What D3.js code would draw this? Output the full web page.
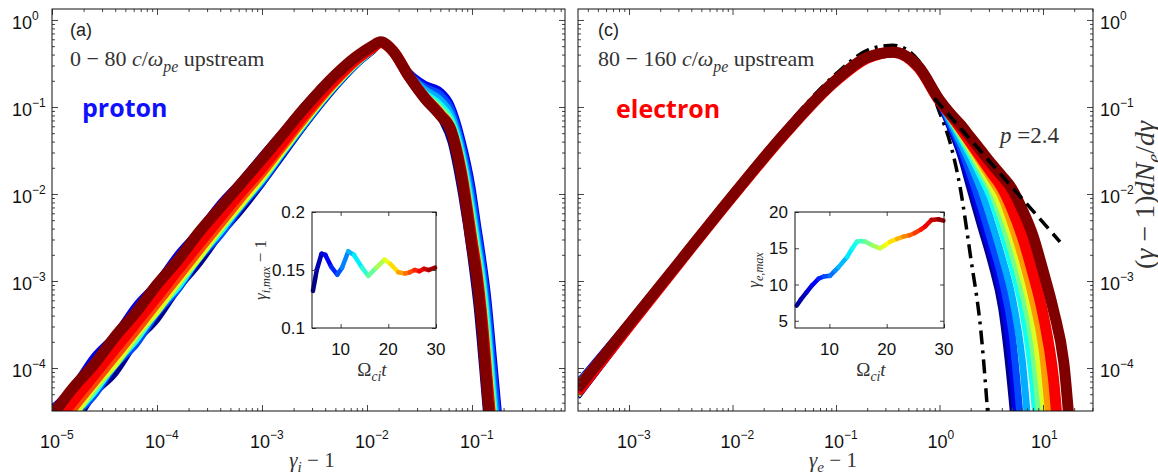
<!DOCTYPE html>
<html>
<head>
<meta charset="utf-8">
<script src="https://cdn.jsdelivr.net/npm/d3@7"></script>
<style>
  body { margin: 0; background: #fff; }
  svg { display: block; }
</style>
</head>
<body>
<div id="chart"></div>
<script>
// ---------------- data (log10 values) ----------------

// left panel: protons, 0-80 c/wpe upstream
const protonTimes = [4.5, 7, 9.5, 12, 14.5, 17, 19.5, 25, 27, 30];
const protonLogE = [-5.0, -4.8, -4.6, -4.4, -4.2, -4.0, -3.8, -3.6, -3.4, -3.2, -3.0, -2.8, -2.6,
                    -2.3, -2.1, -1.95, -1.87, -1.75,
                    -1.6, -1.45, -1.3, -1.2, -1.1, -1.0, -0.95, -0.9, -0.85, -0.8, -0.7];
const protonLogF = [
  [-4.90, -4.66, -4.30, -4.06, -3.70, -3.44, -3.09, -2.80, -2.47, -2.19, -1.88, -1.55, -1.22,
   -0.77, -0.51, -0.36, -0.28, -0.37,
   -0.62, -0.80, -1.12, -1.40, -2.00, -2.81, -3.31, -3.98, -4.68, -5.30, -6.50],
  [-4.47, -4.22, -3.87, -3.62, -3.28, -3.02, -2.69, -2.42, -2.11, -1.85, -1.56, -1.28, -0.99,
   -0.61, -0.41, -0.29, -0.25, -0.34,
   -0.60, -0.74, -0.82, -0.98, -1.36, -1.92, -2.33, -2.73, -3.19, -3.83, -5.15],
  [-4.93, -4.57, -4.32, -3.97, -3.73, -3.37, -3.10, -2.74, -2.48, -2.15, -1.87, -1.53, -1.21,
   -0.76, -0.51, -0.35, -0.28, -0.34,
   -0.62, -0.77, -0.86, -1.02, -1.42, -2.00, -2.41, -2.81, -3.31, -3.98, -5.25],
  [-4.87, -4.57, -4.27, -3.97, -3.67, -3.36, -3.05, -2.74, -2.43, -2.14, -1.84, -1.52, -1.20,
   -0.75, -0.50, -0.35, -0.28, -0.35,
   -0.63, -0.80, -0.92, -1.08, -1.48, -2.12, -2.53, -2.93, -3.48, -4.20, -5.40],
  [-4.88, -4.54, -4.28, -3.94, -3.68, -3.33, -3.07, -2.72, -2.44, -2.12, -1.84, -1.51, -1.19,
   -0.75, -0.50, -0.35, -0.28, -0.35,
   -0.64, -0.84, -0.98, -1.14, -1.54, -2.21, -2.61, -3.01, -3.60, -4.35, -5.50],
  [-4.85, -4.55, -4.25, -3.95, -3.65, -3.34, -3.03, -2.72, -2.41, -2.12, -1.82, -1.50, -1.18,
   -0.74, -0.49, -0.34, -0.27, -0.35,
   -0.64, -0.86, -1.02, -1.18, -1.59, -2.29, -2.69, -3.13, -3.75, -4.48, -5.60],
  [-4.82, -4.56, -4.22, -3.96, -3.62, -3.35, -3.02, -2.73, -2.40, -2.12, -1.82, -1.50, -1.18,
   -0.74, -0.49, -0.34, -0.27, -0.36,
   -0.65, -0.87, -1.05, -1.22, -1.64, -2.37, -2.77, -3.25, -3.90, -4.61, -5.70],
  [-4.78, -4.48, -4.18, -3.88, -3.58, -3.27, -2.97, -2.66, -2.36, -2.06, -1.77, -1.46, -1.15,
   -0.72, -0.48, -0.34, -0.27, -0.36,
   -0.65, -0.88, -1.08, -1.25, -1.70, -2.45, -2.85, -3.36, -4.05, -4.74, -5.80],
  [-4.68, -4.38, -4.08, -3.78, -3.48, -3.18, -2.87, -2.57, -2.27, -1.98, -1.70, -1.40, -1.09,
   -0.68, -0.45, -0.32, -0.26, -0.36,
   -0.65, -0.89, -1.09, -1.26, -1.75, -2.53, -2.93, -3.48, -4.20, -4.87, -5.90],
  [-4.55, -4.23, -3.96, -3.64, -3.36, -3.04, -2.76, -2.44, -2.16, -1.88, -1.60, -1.31, -1.02,
   -0.63, -0.42, -0.30, -0.25, -0.36,
   -0.65, -0.90, -1.10, -1.27, -1.80, -2.61, -3.01, -3.60, -4.35, -5.00, -6.00]
];

// right panel: electrons, 80-160 c/wpe upstream
const electronTimes = [4.5, 7, 9.5, 12, 14.5, 17, 19.5, 23, 27, 30];
const electronLogE = [-3.5, -3.0, -2.5, -2.0, -1.5, -1.0, -0.7, -0.45, -0.2, 0.0, 0.1, 0.2,
                      0.3, 0.4, 0.5, 0.6, 0.7, 0.8, 0.9, 1.0, 1.1, 1.2, 1.3, 1.45];
const electronLogF = [
  [-4.33, -3.55, -2.79, -2.04, -1.33, -0.71, -0.45, -0.38, -0.56, -0.95,
   -1.23, -1.54, -1.96, -2.38, -2.79, -3.31, -4.34, -5.80, -7, -7, -7, -7, -7, -7],
  [-4.18, -3.47, -2.75, -2.02, -1.32, -0.70, -0.44, -0.38, -0.56, -0.95,
   -1.21, -1.50, -1.88, -2.28, -2.69, -3.16, -3.98, -5.50, -7, -7, -7, -7, -7, -7],
  [-4.30, -3.53, -2.78, -2.03, -1.32, -0.70, -0.44, -0.38, -0.56, -0.94,
   -1.19, -1.46, -1.79, -2.15, -2.55, -2.97, -3.59, -4.87, -6.5, -7, -7, -7, -7, -7],
  [-4.22, -3.49, -2.76, -2.03, -1.32, -0.70, -0.44, -0.37, -0.55, -0.94,
   -1.16, -1.40, -1.66, -1.95, -2.31, -2.71, -3.17, -3.92, -5.32, -6.8, -7, -7, -7, -7],
  [-4.27, -3.52, -2.77, -2.03, -1.32, -0.70, -0.44, -0.37, -0.55, -0.94,
   -1.13, -1.34, -1.56, -1.80, -2.06, -2.42, -2.83, -3.32, -4.15, -5.62, -7, -7, -7, -7],
  [-4.20, -3.48, -2.76, -2.02, -1.31, -0.70, -0.44, -0.37, -0.55, -0.93,
   -1.12, -1.32, -1.52, -1.74, -1.96, -2.29, -2.67, -3.11, -3.73, -4.98, -6.5, -7, -7, -7],
  [-4.31, -3.54, -2.78, -2.03, -1.32, -0.70, -0.44, -0.37, -0.55, -0.93,
   -1.11, -1.29, -1.48, -1.69, -1.90, -2.17, -2.50, -2.92, -3.43, -4.34, -5.8, -7, -7, -7],
  [-4.21, -3.50, -2.76, -2.02, -1.31, -0.70, -0.44, -0.37, -0.55, -0.93,
   -1.10, -1.27, -1.45, -1.64, -1.83, -2.03, -2.36, -2.74, -3.20, -3.82, -5.11, -6.6, -7, -7],
  [-4.28, -3.52, -2.77, -2.03, -1.32, -0.70, -0.44, -0.37, -0.55, -0.93,
   -1.08, -1.24, -1.41, -1.58, -1.75, -1.92, -2.17, -2.49, -2.90, -3.38, -4.11, -5.58, -7, -7],
  [-4.24, -3.50, -2.76, -2.02, -1.31, -0.69, -0.43, -0.37, -0.54, -0.92,
   -1.07, -1.20, -1.35, -1.50, -1.65, -1.79, -1.94, -2.18, -2.47, -2.88, -3.33, -3.93, -5.3, -7]
];
// Maxwellian fit (dash-dot) on the electron grid
const electronMaxwellLogF = [-4.24, -3.48, -2.73, -1.98, -1.25, -0.62, -0.35, -0.29, -0.47, -1.06,
                             -1.40, -1.93, -2.72, -3.58, -5.1, -7, -7, -7, -7, -7, -7, -7, -7, -7];
// power-law p = 2.4 (dashed)
const powerLawLogE = [-0.05, 1.164];
const powerLawLogF = [-0.90, -2.55];

// insets
const ionInsetT = [4.2, 5.0, 6.0, 6.8, 8.0, 9.3, 10.3, 11.6, 12.8, 14.5, 15.8, 17.5, 19.2, 20.5,
                   22.1, 23.5, 24.5, 25.5, 26.5, 27.5, 28.5, 29.8];
const ionInsetGmax = [0.132, 0.150, 0.164, 0.163, 0.153, 0.146, 0.152, 0.166, 0.163, 0.152, 0.145,
                      0.152, 0.159, 0.155, 0.148, 0.147, 0.148, 0.150, 0.149, 0.151, 0.150, 0.152];
const eleInsetT = [4.3, 5.0, 6.0, 7.0, 8.1, 9.0, 10.1, 11.0, 11.6, 13.1, 14.0, 14.8, 15.5, 16.3,
                   17.5, 18.8, 19.7, 20.6, 21.8, 22.9, 24.0, 24.9, 26.0, 26.7, 27.8, 29.0, 29.9];
const eleInsetGmax = [7.1, 7.9, 8.9, 9.9, 10.8, 11.1, 11.2, 11.9, 12.4, 13.8, 15.0, 15.9, 16.0, 15.9,
                      15.4, 15.0, 15.4, 15.9, 16.3, 16.6, 16.8, 17.1, 17.6, 18.0, 18.9, 19.0, 18.8];

// tick labels
const protonXExps = [-5, -4, -3, -2, -1];
const electronXExps = [-3, -2, -1, 0, 1];
const yExps = [0, -1, -2, -3, -4];

// ---------------- setup ----------------
const SANS = "'Liberation Sans', Arial, sans-serif";
const SERIF = "'Liberation Serif', 'Times New Roman', serif";
const pow10 = v => Math.pow(10, v);

const svg = d3.select("#chart").append("svg")
  .attr("width", 1158).attr("height", 475);

// jet colour map, time -> colour
const jet = d3.scaleLinear()
  .domain([0, 0.125, 0.375, 0.625, 0.875, 1])
  .range(["#00008f", "#0000ff", "#00ffff", "#ffff00", "#ff0000", "#800000"])
  .clamp(true);
const tColor = t => jet((t - 4.5) / 25.5);

// rich text with sub/superscripts
function rich(parent, parts, size, family) {
  const t = parent.append("text").attr("font-size", size).attr("font-family", family || SERIF);
  let shift = 0;
  parts.forEach(p => {
    const target = p.sub ? 0.25 * size : p.sup ? -0.4 * size : 0;
    t.append("tspan").text(p.t)
      .attr("dy", target - shift)
      .attr("font-size", (p.sub || p.sup) ? size * 0.72 : size)
      .attr("font-style", p.i ? "italic" : "normal");
    shift = target;
  });
  return t;
}

function minorTicks(dom) {
  const lo = Math.floor(Math.log10(dom[0])), hi = Math.ceil(Math.log10(dom[1]));
  const out = [];
  for (let k = lo; k <= hi; k++)
    for (let m = 2; m <= 9; m++) {
      const v = m * pow10(k);
      if (v > dom[0] && v < dom[1]) out.push(v);
    }
  return out;
}

function logFrame(g, x, y, w, h) {
  const xMaj = d3.range(Math.ceil(Math.log10(x.domain()[0])), Math.floor(Math.log10(x.domain()[1])) + 1).map(pow10);
  const yMaj = d3.range(Math.ceil(Math.log10(y.domain()[0])), Math.floor(Math.log10(y.domain()[1])) + 1).map(pow10);
  const xMin = minorTicks(x.domain()), yMin = minorTicks(y.domain());
  const sets = [
    [d3.axisBottom, x, `translate(0,${h})`],
    [d3.axisTop, x, "translate(0,0)"],
    [d3.axisLeft, y, "translate(0,0)"],
    [d3.axisRight, y, `translate(${w},0)`]
  ];
  sets.forEach(([ax, sc, tr]) => {
    const isX = sc === x;
    [[isX ? xMaj : yMaj, 6], [isX ? xMin : yMin, 3]].forEach(([vals, len]) => {
      const a = g.append("g").attr("transform", tr)
        .call(ax(sc).tickValues(vals).tickSize(-len).tickSizeOuter(0).tickFormat(""));
      a.select(".domain").remove();
      a.selectAll("line").attr("stroke", "#444");
    });
  });
  g.append("rect").attr("width", w).attr("height", h)
    .attr("fill", "none").attr("stroke", "#111").attr("stroke-width", 1);
}

function expLabel(g, cx, cy, e, mode) {
  // "10" placed on the tick, exponent raised to its right
  const s = e < 0 ? "\u2212" + (-e) : String(e);
  const base = g.append("text").attr("font-family", SANS).attr("font-size", 18).attr("fill", "#111");
  if (mode === "x") {
    base.attr("x", cx - 2).attr("y", cy).attr("text-anchor", "middle").text("10");
    g.append("text").attr("font-family", SANS).attr("font-size", 12).attr("fill", "#111")
      .attr("x", cx + 8).attr("y", cy - 9).text(s);
  } else {
    base.attr("x", cx).attr("y", cy).text("10");
    g.append("text").attr("font-family", SANS).attr("font-size", 12).attr("fill", "#111")
      .attr("x", cx + 20).attr("y", cy - 9).text(s);
  }
}

// ---------------- main panels ----------------
function spectraPanel(opt) {
  const w = opt.box[2] - opt.box[0], h = opt.box[3] - opt.box[1];
  const g = svg.append("g").attr("transform", `translate(${opt.box[0]},${opt.box[1]})`);
  const x = d3.scaleLog().domain(opt.xDom).range([0, w]);
  const y = d3.scaleLog().domain([pow10(-4.494), pow10(0.126)]).range([h, 0]);

  g.append("clipPath").attr("id", "clip-" + opt.id)
    .append("rect").attr("width", w).attr("height", h);
  const plot = g.append("g").attr("clip-path", `url(#clip-${opt.id})`);

  const line = d3.line()
    .x(d => x(pow10(d[0])))
    .y(d => y(pow10(d[1])))
    .curve(d3.curveMonotoneX);

  if (opt.maxwell) {
    plot.append("path")
      .attr("d", line(opt.logE.map((e, i) => [e, opt.maxwell[i]])))
      .attr("fill", "none").attr("stroke", "#000").attr("stroke-width", 3.5)
      .attr("stroke-dasharray", "14,6,3,6");
  }

  const n = opt.logF.length;
  opt.logF.forEach((row, k) => {
    plot.append("path")
      .attr("d", line(opt.logE.map((e, i) => [e, row[i]])))
      .attr("fill", "none")
      .attr("stroke", tColor(opt.times[k]))
      .attr("stroke-width", k >= n - 2 ? 11 : k === n - 3 ? 8 : 7)
      .attr("stroke-linejoin", "round");
  });

  if (opt.powerLaw) {
    plot.append("path")
      .attr("d", d3.line().x(d => x(pow10(d[0]))).y(d => y(pow10(d[1])))(
        opt.powerLaw[0].map((e, i) => [e, opt.powerLaw[1][i]])))
      .attr("fill", "none").attr("stroke", "#000").attr("stroke-width", 3.5)
      .attr("stroke-dasharray", "13,7");
  }

  logFrame(g, x, y, w, h);

  opt.xExps.forEach(e => expLabel(g, x(pow10(e)), h + 37, e, "x"));
  if (opt.yLabelX !== undefined)
    yExps.forEach(e => expLabel(g, opt.yLabelX, y(pow10(e)) + 9, e, "y"));

  return { g, x, y, w, h };
}

spectraPanel({
  id: "p", box: [52, 9, 565, 411], xDom: [pow10(-5), pow10(-0.114)],
  logE: protonLogE, logF: protonLogF, times: protonTimes,
  xExps: protonXExps, yLabelX: -40
});
spectraPanel({
  id: "e", box: [578, 9, 1093, 411], xDom: [pow10(-3.493), pow10(1.483)],
  logE: electronLogE, logF: electronLogF, times: electronTimes,
  maxwell: electronMaxwellLogF, powerLaw: [powerLawLogE, powerLawLogF],
  xExps: electronXExps, yLabelX: 522
});

// ---------------- insets ----------------
function inset(opt) {
  const w = opt.box[2] - opt.box[0], h = opt.box[3] - opt.box[1];
  const g = svg.append("g").attr("transform", `translate(${opt.box[0]},${opt.box[1]})`);
  g.append("rect").attr("width", w).attr("height", h).attr("fill", "#fff");
  const x = d3.scaleLinear().domain([4, 30]).range([0, w]);
  const y = d3.scaleLinear().domain(opt.yDom).range([h, 0]);

  for (let i = 0; i < opt.t.length - 1; i++) {
    g.append("line")
      .attr("x1", x(opt.t[i])).attr("y1", y(opt.v[i]))
      .attr("x2", x(opt.t[i + 1])).attr("y2", y(opt.v[i + 1]))
      .attr("stroke", tColor((opt.t[i] + opt.t[i + 1]) / 2))
      .attr("stroke-width", 4.5).attr("stroke-linecap", "round");
  }

  [[d3.axisBottom, x, `translate(0,${h})`, [10, 20, 30]],
   [d3.axisTop, x, "translate(0,0)", [10, 20, 30]],
   [d3.axisLeft, y, "translate(0,0)", opt.yTicks],
   [d3.axisRight, y, `translate(${w},0)`, opt.yTicks]].forEach(([ax, sc, tr, vals]) => {
    const a = g.append("g").attr("transform", tr)
      .call(ax(sc).tickValues(vals).tickSize(-4).tickSizeOuter(0).tickFormat(""));
    a.select(".domain").remove();
    a.selectAll("line").attr("stroke", "#444");
  });
  g.append("rect").attr("width", w).attr("height", h)
    .attr("fill", "none").attr("stroke", "#111");

  [10, 20, 30].forEach(v => g.append("text")
    .attr("x", x(v)).attr("y", h + 27).attr("text-anchor", "middle")
    .attr("font-family", SANS).attr("font-size", 17).attr("fill", "#111").text(v));
  opt.yTicks.forEach((v, i) => g.append("text")
    .attr("x", -7).attr("y", y(v) + 6).attr("text-anchor", "end")
    .attr("font-family", SANS).attr("font-size", 17).attr("fill", "#111").text(opt.yTickText[i]));

  rich(g, [{ t: "\u03A9" }, { t: "ci", sub: true, i: true }, { t: "t", i: true }], 19)
    .attr("x", opt.xTitleX).attr("y", h + 48).attr("text-anchor", "middle").attr("fill", "#333");
  rich(g, opt.yTitle, 17)
    .attr("transform", `translate(${opt.yTitleX},${h / 2}) rotate(-90)`)
    .attr("text-anchor", "middle").attr("fill", "#333");
}

inset({
  box: [312, 212, 436, 328], t: ionInsetT, v: ionInsetGmax, yDom: [0.1, 0.2],
  yTicks: [0.1, 0.15, 0.2], yTickText: ["0.1", "0.15", "0.2"], xTitleX: 60, yTitleX: -46,
  yTitle: [{ t: "\u03B3", i: true }, { t: "i,max", sub: true, i: true }, { t: " \u2212 1" }]
});
inset({
  box: [795, 212, 944, 328], t: eleInsetT, v: eleInsetGmax, yDom: [4, 20],
  yTicks: [5, 10, 15, 20], yTickText: ["5", "10", "15", "20"], xTitleX: 76, yTitleX: -36,
  yTitle: [{ t: "\u03B3", i: true }, { t: "e,max", sub: true, i: true }]
});

// ---------------- annotations ----------------
svg.append("text").attr("x", 70).attr("y", 36).attr("font-family", SANS)
  .attr("font-size", 18).attr("fill", "#222").text("(a)");
svg.append("text").attr("x", 598).attr("y", 36).attr("font-family", SANS)
  .attr("font-size", 18).attr("fill", "#222").text("(c)");

rich(svg, [{ t: "0 \u2212 80 " }, { t: "c", i: true }, { t: "/" }, { t: "\u03C9", i: true },
  { t: "pe", sub: true, i: true }, { t: " upstream" }], 22)
  .attr("x", 70).attr("y", 66).attr("fill", "#333");
rich(svg, [{ t: "80 \u2212 160 " }, { t: "c", i: true }, { t: "/" }, { t: "\u03C9", i: true },
  { t: "pe", sub: true, i: true }, { t: " upstream" }], 22)
  .attr("x", 598).attr("y", 66).attr("fill", "#333");

svg.append("text").attr("x", 82).attr("y", 117).attr("font-family", "'Open Sans', sans-serif")
  .attr("font-weight", "bold").attr("font-size", 25).attr("fill", "#1010ff").text("proton");
svg.append("text").attr("x", 616).attr("y", 118).attr("font-family", "'Open Sans', sans-serif")
  .attr("font-weight", "bold").attr("font-size", 25).attr("fill", "#ff0000").text("electron");

rich(svg, [{ t: "p", i: true }, { t: " =2.4" }], 23)
  .attr("x", 1000).attr("y", 143).attr("fill", "#333");

rich(svg, [{ t: "\u03B3", i: true }, { t: "i", sub: true, i: true }, { t: " \u2212 1" }], 21)
  .attr("x", 312).attr("y", 467).attr("text-anchor", "middle").attr("fill", "#333");
rich(svg, [{ t: "\u03B3", i: true }, { t: "e", sub: true, i: true }, { t: " \u2212 1" }], 21)
  .attr("x", 833).attr("y", 467).attr("text-anchor", "middle").attr("fill", "#333");

rich(svg, [{ t: "(" }, { t: "\u03B3", i: true }, { t: " \u2212 1)" }, { t: "dN", i: true },
  { t: "e", sub: true, i: true }, { t: "/" }, { t: "d\u03B3", i: true }], 28)
  .attr("transform", "translate(1154,195) rotate(-90)")
  .attr("text-anchor", "middle").attr("fill", "#333");
</script>
</body>
</html>
